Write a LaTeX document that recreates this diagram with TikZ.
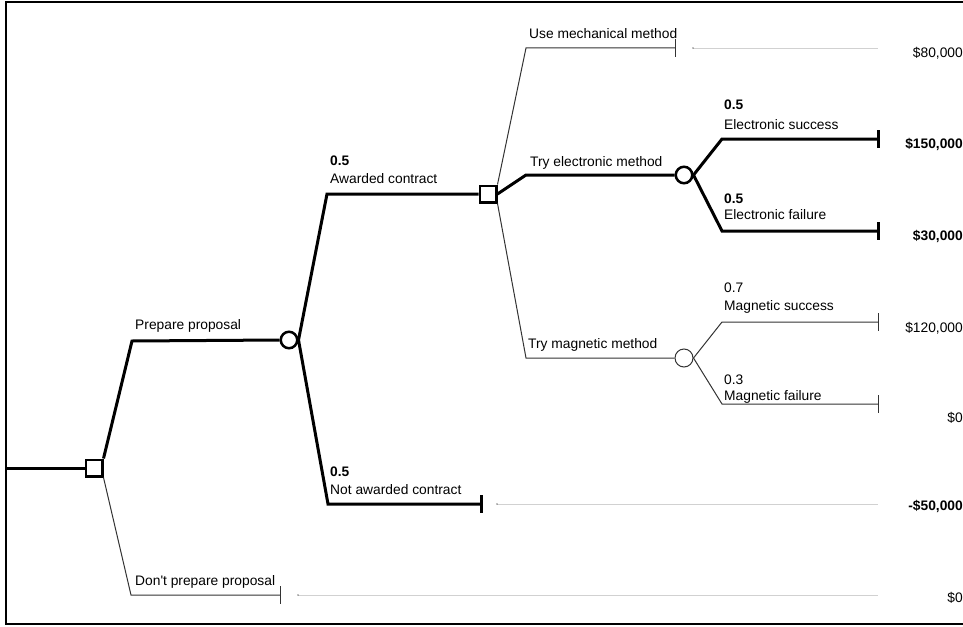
\documentclass[tikz,border=0pt]{standalone}
\usepackage{fontspec}
\setmainfont{Liberation Sans}
\begin{document}
\begin{tikzpicture}[x=1pt,y=-1pt,
  thickline/.style={line width=3pt},
  thinline/.style={line width=1pt, draw=black!80},
  decision/.style={draw, rectangle, minimum size=16.5pt, inner sep=0pt, fill=white, line width=2.5pt},
  chance/.style={draw, circle, minimum size=16.5pt, inner sep=0pt, fill=white, line width=2.5pt},
  chancethin/.style={draw=black!80, circle, minimum size=18pt, inner sep=0pt, fill=white, line width=1pt},
  lbl/.style={anchor=base west, inner sep=0pt, font=\fontsize{13.8}{16}\selectfont},
  prob/.style={lbl, font=\fontsize{13.8}{16}\selectfont\bfseries},
  payoff/.style={anchor=base east, inner sep=0pt, font=\fontsize{13.8}{16}\selectfont},
  bigpayoff/.style={payoff, font=\fontsize{13.8}{16}\selectfont\bfseries},
  leader/.style={draw=black!18, line width=0.8pt}
]
\useasboundingbox (0,0) rectangle (963,626);

% frame (right side lies past the page edge)
\draw[line width=2.5pt] (990,2) -- (6,2) -- (6,624) -- (990,624);

% decision and chance nodes
\node[decision] (d1) at (94,468) {};
\node[chance] (c1) at (289,340) {};
\node[decision] (d2) at (488,194) {};
\node[chance] (c2) at (684,175) {};
\node[chancethin] (c3) at (684,358) {};

% bends of the branches
\coordinate (root) at (6,468);
\coordinate (bprep) at (132,341);
\coordinate (bdont) at (131,595);
\coordinate (baw) at (327,194);
\coordinate (bna) at (328,504);
\coordinate (bmech) at (526,48);
\coordinate (bel) at (526,175);
\coordinate (bmag) at (526,358);
\coordinate (bes) at (722,139);
\coordinate (bef) at (722,231);
\coordinate (bms) at (722,322);
\coordinate (bmf) at (722,404);

% end points
\coordinate (tdont) at (280,595);
\coordinate (tna) at (481,504);
\coordinate (tmech) at (675,48);
\coordinate (tes) at (878,139);
\coordinate (tef) at (878,231);
\coordinate (tms) at (878,322);
\coordinate (tmf) at (878,404);

% leader ends
\coordinate (ldont) at (878,595);
\coordinate (lna) at (878,504);
\coordinate (lmech) at (878,48);

% branches
\draw[thickline] (root) -- (d1.west);
\draw[thickline] (d1.north east) -- (bprep) -- (c1.west);
\draw[thinline] (d1.south east) -- (bdont) -- (tdont);
\draw[thinline] (tdont) ++(0,-9) -- ++(0,18);

\draw[thickline] (c1.east) -- (baw) -- (d2.west);
\draw[thickline] (c1.east) -- (bna) -- (tna);
\draw[thickline] (tna) ++(0,-9) -- ++(0,18);

\draw[thinline] (d2.north east) -- (bmech) -- (tmech);
\draw[thinline] (tmech) ++(0,-9) -- ++(0,18);
\draw[thickline] (d2.east) -- (bel) -- (c2.west);
\draw[thinline] (d2.south east) -- (bmag) -- (c3.west);

\draw[thickline] (c2.east) -- (bes) -- (tes);
\draw[thickline] (tes) ++(0,-9) -- ++(0,18);
\draw[thickline] (c2.east) -- (bef) -- (tef);
\draw[thickline] (tef) ++(0,-9) -- ++(0,18);

\draw[thinline] (c3.east) -- (bms) -- (tms);
\draw[thinline] (tms) ++(0,-9) -- ++(0,18);
\draw[thinline] (c3.east) -- (bmf) -- (tmf);
\draw[thinline] (tmf) ++(0,-9) -- ++(0,18);

% faint leaders to the payoffs
\draw[leader] ([xshift=18pt]tdont) -- (ldont);
\draw[leader] ([xshift=16pt]tna) -- (lna);
\draw[leader] ([xshift=18pt]tmech) -- (lmech);
\fill ([xshift=18pt]tdont) circle (0.6pt);
\fill ([xshift=16pt]tna) circle (0.6pt);
\fill ([xshift=18pt]tmech) circle (0.6pt);

% branch labels
\node[lbl] (lprep) at (135,329) {Prepare proposal};
\node[lbl] (ldontt) at (135,585) {Don\textquotesingle t prepare proposal};
\node[prob] (paw) at (330,165) {0.5};
\node[lbl] (law) at (330,183) {Awarded contract};
\node[prob] (pna) at (330,476) {0.5};
\node[lbl] (lnat) at (330,494) {Not awarded contract};
\node[lbl] (lmecht) at (529,38) {Use mechanical method};
\node[lbl] (lel) at (530,166) {Try electronic method};
\node[lbl] (lmag) at (528,348) {Try magnetic method};
\node[prob] (pes) at (724,109) {0.5};
\node[lbl] (les) at (724,129) {Electronic success};
\node[prob] (pef) at (724,203) {0.5};
\node[lbl] (lef) at (724,219) {Electronic failure};
\node[lbl] (pms) at (724,292) {0.7};
\node[lbl] (lms) at (724,310) {Magnetic success};
\node[lbl] (pmf) at (724,384) {0.3};
\node[lbl] (lmf) at (724,400) {Magnetic failure};

% payoffs
\node[payoff] (v1) at (963,57) {\$80,000};
\node[bigpayoff] (v2) at (963,148) {\$150,000};
\node[bigpayoff] (v3) at (963,240) {\$30,000};
\node[payoff] (v4) at (963,332) {\$120,000};
\node[payoff] (v5) at (963,422) {\$0};
\node[bigpayoff] (v6) at (963,510) {-\$50,000};
\node[payoff] (v7) at (963,602) {\$0};
\end{tikzpicture}
\end{document}
